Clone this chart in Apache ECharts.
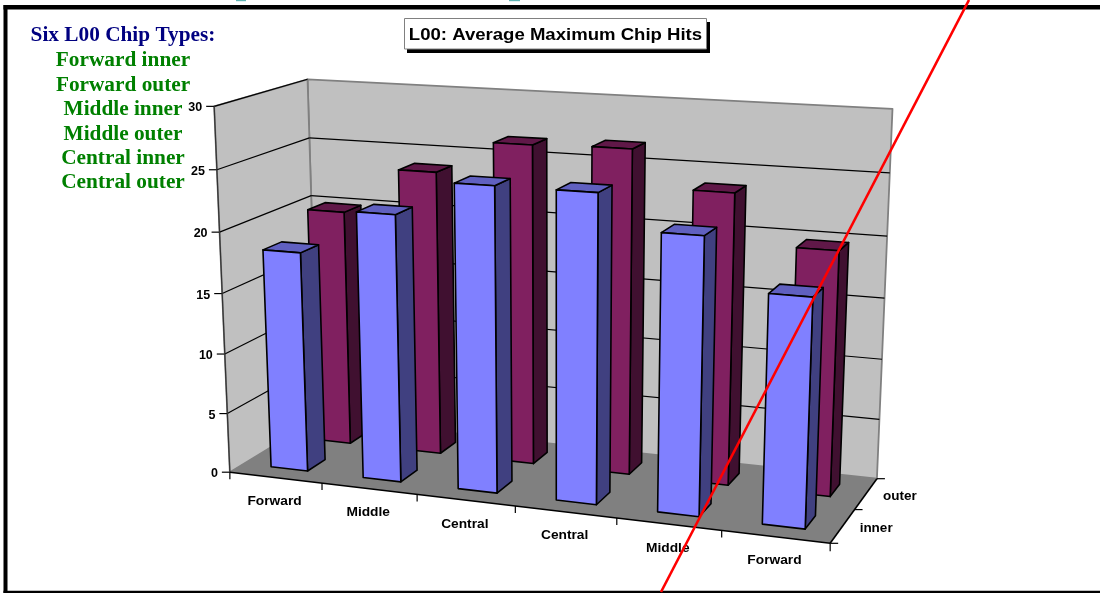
<!DOCTYPE html>
<html>
<head>
<meta charset="utf-8">
<style>html,body{margin:0;padding:0;background:#fff}#chart{width:1100px;height:593px}</style>
<script src="https://cdn.jsdelivr.net/npm/echarts@6/dist/echarts.min.js"></script>
</head>
<body>
<div id="chart"></div>
<script>
// Chip positions along the beam, and the two layers front to back
const categories = ['Forward', 'Middle', 'Central', 'Central', 'Middle', 'Forward'];
const depthLabels = ['inner', 'outer'];
const innerHits = [18.25, 21.9, 24.7, 24.7, 22, 18];
const outerHits = [20, 23.85, 26.55, 26.7, 23.75, 19.8];
const valueTicks = [0, 5, 10, 15, 20, 25, 30];
const chartTitle = 'L00: Average Maximum Chip Hits';
const listHeading = 'Six L00 Chip Types:';
const chipTypes = ['Forward inner', 'Forward outer', 'Middle inner', 'Middle outer', 'Central inner', 'Central outer'];

const maxValue = 30;
const nCat = categories.length;
const nDepth = depthLabels.length;
const barSize = 0.4;   // bar footprint as a share of one category / depth slot

// Camera calibration: box corners in (category, depth, value) and where they land on screen
const calibration = [
  [0, 0, 0, 230, 472], [0, 0, 5, 227, 413], [0, 0, 10, 225, 355], [0, 0, 15, 222, 292],
  [0, 0, 20, 220, 233], [0, 0, 25, 217, 170], [0, 0, 30, 214, 106],
  [6, 0, 0, 830, 544], [6, 2, 0, 877, 478], [0, 2, 0, 318, 419],
  [0, 2, 30, 307, 79], [0, 2, 25, 310, 138], [0, 2, 20, 311, 196],
  [6, 2, 30, 892, 109], [6, 2, 25, 890, 173], [6, 2, 20, 888, 236], [6, 2, 15, 884, 298]
];

// Least-squares fit of a 3x4 projective camera
function fitCamera(pts) {
  const n = 11;
  const A = Array.from({ length: n }, () => new Array(n + 1).fill(0));
  const add = (row, rhs) => {
    for (let i = 0; i < n; i++) {
      for (let j = 0; j < n; j++) A[i][j] += row[i] * row[j];
      A[i][n] += row[i] * rhs;
    }
  };
  pts.forEach(([X, Y, Z, x, y]) => {
    add([X, Y, Z, 1, 0, 0, 0, 0, -x * X, -x * Y, -x * Z], x);
    add([0, 0, 0, 0, X, Y, Z, 1, -y * X, -y * Y, -y * Z], y);
  });
  for (let c = 0; c < n; c++) {
    let best = c;
    for (let r = c + 1; r < n; r++) if (Math.abs(A[r][c]) > Math.abs(A[best][c])) best = r;
    [A[c], A[best]] = [A[best], A[c]];
    for (let r = 0; r < n; r++) {
      if (r === c) continue;
      const f = A[r][c] / A[c][c];
      for (let k = c; k <= n; k++) A[r][k] -= f * A[c][k];
    }
  }
  return A.map((row, i) => row[n] / row[i]);
}
const cam = fitCamera(calibration);
function project(u, v, w) {
  const d = cam[8] * u + cam[9] * v + cam[10] * w + 1;
  return [
    (cam[0] * u + cam[1] * v + cam[2] * w + cam[3]) / d,
    (cam[4] * u + cam[5] * v + cam[6] * w + cam[7]) / d
  ];
}

// Read category slot and value back out of the hidden cartesian grid
function toModel(api, params, i, val) {
  const p = api.coord([i, val]);
  const g = params.coordSys;
  return {
    u: (p[0] - g.x) / g.width * nCat,
    w: (g.y + g.height - p[1]) / g.height * maxValue
  };
}

const poly = (pts, fill, stroke, lineWidth) => ({
  type: 'polygon',
  shape: { points: pts },
  style: { fill: fill, stroke: stroke || null, lineWidth: lineWidth || 0, lineJoin: 'round' }
});
const seg = (a, b, color, lineWidth) => ({
  type: 'line',
  shape: { x1: a[0], y1: a[1], x2: b[0], y2: b[1] },
  style: { stroke: color, lineWidth: lineWidth || 1 }
});
const label = (text, x, y, align, font, stretch) => ({
  type: 'text',
  x: x, y: y, scaleX: stretch || 1,
  style: { text: text, x: 0, y: 0, align: align, verticalAlign: 'middle', font: font, fill: '#000' }
});
const axisFont = 'bold 12.5px "Liberation Sans", Arial, sans-serif';

// Back wall, side wall and floor
function renderShell() {
  const wall = '#c0c0c0', edge = '#808080';
  return {
    type: 'group',
    children: [
      poly([project(0, 2, 0), project(6, 2, 0), project(6, 2, maxValue), project(0, 2, maxValue)], wall, edge, 1.8),
      poly([project(0, 0, 0), project(0, 2, 0), project(0, 2, maxValue), project(0, 0, maxValue)], wall, edge, 1.8),
      poly([project(0, 0, 0), project(6, 0, 0), project(6, 2, 0), project(0, 2, 0)], '#808080')
    ]
  };
}

// One gridline on both walls, with its tick and label on the front edge
function renderValueTick(params, api) {
  const w = toModel(api, params, 0, api.value(1)).w;
  const a = project(0, 0, w), b = project(0, 2, w), c = project(6, 2, w);
  const children = [];
  if (w > 0) {
    children.push(seg(a, b, '#000', 1.2));
    if (w < maxValue) children.push(seg(b, c, '#000', 1.2));
  }
  children.push(seg([a[0] - 8, a[1]], a, '#000', 1.2));
  children.push(label(String(api.value(1)), a[0] - 12, a[1] + 1.5, 'right', axisFont));
  return { type: 'group', children: children };
}

// Front and side floor edges
function renderFloorEdges() {
  return {
    type: 'group',
    children: [
      seg(project(0, 0, maxValue), project(0, 0, 0), '#333', 1.2),
      seg(project(0, 0, 0), project(6, 0, 0), '#000', 1.6),
      seg(project(6, 0, 0), project(6, 2, 0), '#000', 1.6)
    ]
  };
}

function renderCategoryTick(params, api) {
  const i = api.value(0);
  const u = toModel(api, params, i, 0).u;
  const left = project(u - 0.5, 0, 0), mid = project(u, 0, 0);
  const children = [
    seg(left, [left[0], left[1] + 7], '#000', 1.2),
    label(categories[i], mid[0] - 1, mid[1] + 24, 'center', axisFont, 1.1)
  ];
  if (i === nCat - 1) {
    const right = project(u + 0.5, 0, 0);
    children.push(seg(right, [right[0], right[1] + 8], '#000', 1.2));
  }
  return { type: 'group', children: children };
}

function renderDepthTick(params, api) {
  const v = api.value(0);
  const p = project(nCat, v, 0);
  const children = [seg(p, [p[0] + 8, p[1]], '#000', 1.2)];
  if (v < nDepth) {
    const m = project(nCat, v + 0.5, 0);
    children.push(label(depthLabels[v], m[0] + 17, m[1] + 2.5, 'left', axisFont, 1.08));
  }
  return { type: 'group', children: children };
}

// A square column: front face, lit top, shaded right side
function barRenderer(depth, colors) {
  return function (params, api) {
    const m = toModel(api, params, api.value(0), api.value(1));
    const h = barSize / 2;
    const u0 = m.u - h, u1 = m.u + h;
    const v0 = depth + 0.5 - h, v1 = depth + 0.5 + h;
    const outline = '#000', lw = 1.6;
    return {
      type: 'group',
      children: [
        poly([project(u1, v0, 0), project(u1, v1, 0), project(u1, v1, m.w), project(u1, v0, m.w)], colors.side, outline, lw),
        poly([project(u0, v0, m.w), project(u1, v0, m.w), project(u1, v1, m.w), project(u0, v1, m.w)], colors.top, outline, lw),
        poly([project(u0, v0, 0), project(u1, v0, 0), project(u1, v0, m.w), project(u0, v0, m.w)], colors.front, outline, lw)
      ]
    };
  };
}

const plum = { front: '#802060', side: '#401030', top: '#601848' };
const periwinkle = { front: '#8080ff', side: '#404080', top: '#6060c0' };
const pairs = (values) => values.map((v, i) => [i, v]);
const xy = { x: 0, y: 1 };
const customBase = { type: 'custom', coordinateSystem: 'cartesian2d', clip: false, silent: true, encode: xy };

const serif = 'bold 21.3px "Liberation Serif", "Times New Roman", serif';
const listCentre = 123;
const listRows = [60, 85, 109, 134, 158, 182];

const chart = echarts.init(document.getElementById('chart'), null, { renderer: 'canvas' });
chart.setOption({
  animation: false,
  backgroundColor: '#ffffff',
  grid: { left: 0, right: 0, top: 0, bottom: 0, show: false },
  xAxis: { type: 'category', data: categories.map((c, i) => c + i), show: false },
  yAxis: { type: 'value', min: 0, max: maxValue, interval: 5, show: false },
  series: [
    Object.assign({}, customBase, { name: 'walls', z: 1, data: [[0, 0]], renderItem: renderShell }),
    Object.assign({}, customBase, { name: 'value axis', z: 2, data: valueTicks.map(t => [0, t]), renderItem: renderValueTick }),
    Object.assign({}, customBase, { name: 'floor edges', z: 3, data: [[0, 0]], renderItem: renderFloorEdges }),
    Object.assign({}, customBase, { name: 'category axis', z: 3, data: categories.map((c, i) => [i, 0]), renderItem: renderCategoryTick }),
    Object.assign({}, customBase, { name: 'depth axis', z: 3, data: [0, 1, 2].map(v => [v, 0]), renderItem: renderDepthTick }),
    Object.assign({}, customBase, { name: 'outer', z: 4, data: pairs(outerHits), renderItem: barRenderer(1, plum) }),
    Object.assign({}, customBase, { name: 'inner', z: 5, data: pairs(innerHits), renderItem: barRenderer(0, periwinkle) })
  ],
  graphic: { elements: [
    // Slide frame
    { type: 'rect', z: 50, shape: { x: 3.5, y: 5, width: 1100, height: 4.5 }, style: { fill: '#000' } },
    { type: 'rect', z: 50, shape: { x: 3.5, y: 5, width: 4, height: 588 }, style: { fill: '#000' } },
    { type: 'rect', z: 50, shape: { x: 3.5, y: 590.7, width: 1100, height: 3 }, style: { fill: '#000' } },
    // Slide heading descenders showing above the frame
    { type: 'rect', z: 50, shape: { x: 236, y: 0, width: 10, height: 1.2 }, style: { fill: '#5fb3b3' } },
    { type: 'rect', z: 50, shape: { x: 509, y: 0, width: 11, height: 1.2 }, style: { fill: '#5fb3b3' } },
    // Chart title box with drop shadow
    { type: 'rect', z: 51, shape: { x: 407, y: 22, width: 303, height: 31 }, style: { fill: '#000' } },
    { type: 'rect', z: 52, shape: { x: 404.5, y: 18.5, width: 302, height: 30.5 }, style: { fill: '#fff', stroke: '#808080', lineWidth: 1 } },
    { type: 'text', z: 53, x: 555.5, y: 36, scaleX: 1.16,
      style: { text: chartTitle, x: 0, y: 0, align: 'center', verticalAlign: 'middle', font: 'bold 16px "Liberation Sans", Arial, sans-serif', fill: '#000' } },
    // Chip type list
    { type: 'text', z: 53, x: listCentre, y: 35,
      style: { text: listHeading, x: 0, y: 0, align: 'center', verticalAlign: 'middle', font: serif, fill: '#000080' } }
  ].concat(chipTypes.map((t, i) => ({
    type: 'text', z: 53, x: listCentre, y: listRows[i],
    style: { text: t, x: 0, y: 0, align: 'center', verticalAlign: 'middle', font: serif, fill: '#008000' }
  }))).concat([
    // Hand-drawn red slash across the slide
    { type: 'line', z: 60, shape: { x1: 969, y1: 0, x2: 661, y2: 592 }, style: { stroke: '#ff0000', lineWidth: 2.6 } }
  ]) }
});
</script>
</body>
</html>
